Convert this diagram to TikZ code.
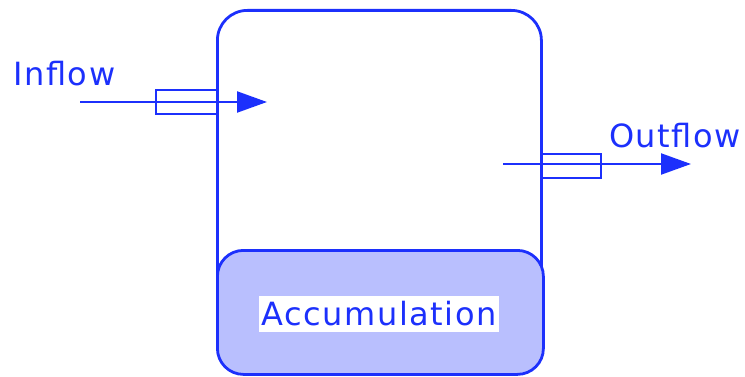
\documentclass[tikz,border=0pt]{standalone}
\usepackage{fontspec}
\setmainfont{DejaVu Sans}[LetterSpace=5]
\usetikzlibrary{arrows.meta}
\definecolor{tankblue}{RGB}{28,48,252}
\tikzset{
  tankline/.style={draw=tankblue, line width=2.8pt},
  pipebox/.style={draw=tankblue, line width=2pt, inner sep=0pt},
  flowline/.style={draw=tankblue, line width=2.2pt, -{Triangle[length=30pt,width=21pt]}},
  lbl/.style={text=tankblue, font=\fontsize{32}{34}\selectfont, inner sep=0pt}
}
\begin{document}
\begin{tikzpicture}[x=1pt,y=-1pt]
\useasboundingbox (0,0) rectangle (745,377);
% tank
\node[tankline, rounded corners=30pt, minimum width=324pt, minimum height=330pt, anchor=north west, inner sep=0pt] (tank) at (216,9) {};
% accumulation
\node[tankline, rounded corners=26pt, fill=tankblue!31, minimum width=326pt, minimum height=124pt, anchor=north west, inner sep=0pt] (acc) at (216,249) {};
\node[lbl, fill=white, inner xsep=2pt, inner ysep=6pt] (acclbl) at (379,314) {Accumulation};
% inflow
\coordinate (inS) at (80,102);
\coordinate (inE) at (267,102);
\node[pipebox, minimum width=61pt, minimum height=24pt, anchor=north west] (inpipe) at (155,89) {};
\draw[flowline] (inS) -- (inE);
\node[lbl, anchor=base west] (inlbl) at (13,86) {Inflow};
% outflow
\coordinate (outS) at (503,164);
\coordinate (outE) at (691,164);
\node[pipebox, minimum width=60pt, minimum height=24pt, anchor=north west] (outpipe) at (540,153) {};
\draw[flowline] (outS) -- (outE);
\node[lbl, anchor=base west] (outlbl) at (609,148) {Outflow};
\end{tikzpicture}
\end{document}
